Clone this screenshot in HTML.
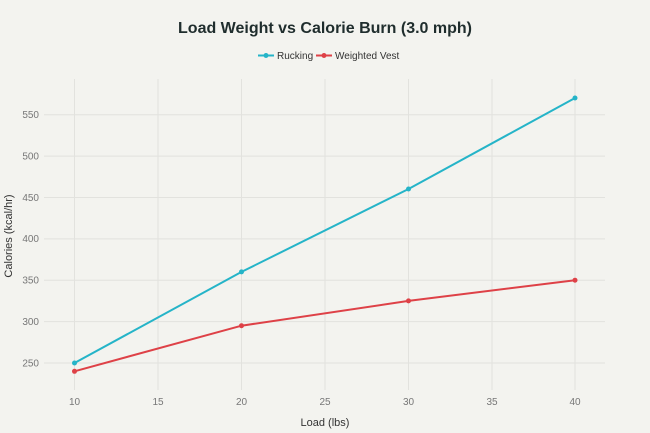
<!DOCTYPE html>
<html><head><style>
body{margin:0;background:#f3f3ef;}
svg{display:block;font-family:"Liberation Sans",sans-serif;}
</style></head><body>
<svg width="650" height="433" viewBox="0 0 650 433">
<rect width="650" height="433" fill="#f3f3ef"/>
<text x="325" y="33" text-anchor="middle" font-size="16" font-weight="bold" fill="#1f2d2d">Load Weight vs Calorie Burn (3.0 mph)</text>
<g font-size="10" fill="#333">
<line x1="258" y1="55.5" x2="274" y2="55.5" stroke="#25b4c8" stroke-width="2"/><circle cx="266" cy="55.5" r="2.5" fill="#25b4c8"/>
<text x="277" y="59">Rucking</text>
<line x1="316" y1="55.5" x2="332" y2="55.5" stroke="#de4147" stroke-width="2"/><circle cx="324" cy="55.5" r="2.5" fill="#de4147"/>
<text x="335" y="59">Weighted Vest</text>
</g>
<g stroke="#e2e2de" stroke-width="1">
<line x1="74.5" y1="79" x2="74.5" y2="390"/><line x1="158" y1="79" x2="158" y2="390"/><line x1="241.5" y1="79" x2="241.5" y2="390"/><line x1="325" y1="79" x2="325" y2="390"/><line x1="408.5" y1="79" x2="408.5" y2="390"/><line x1="492" y1="79" x2="492" y2="390"/><line x1="575" y1="79" x2="575" y2="390"/>
<line x1="44" y1="114.7" x2="605" y2="114.7"/><line x1="44" y1="156.1" x2="605" y2="156.1"/><line x1="44" y1="197.5" x2="605" y2="197.5"/><line x1="44" y1="238.9" x2="605" y2="238.9"/><line x1="44" y1="280.3" x2="605" y2="280.3"/><line x1="44" y1="321.6" x2="605" y2="321.6"/><line x1="44" y1="363" x2="605" y2="363"/>
</g>
<g font-size="10" fill="#777" text-anchor="end">
<text x="39" y="118">550</text><text x="39" y="159.5">500</text><text x="39" y="201">450</text><text x="39" y="242">400</text><text x="39" y="283.5">350</text><text x="39" y="325">300</text><text x="39" y="366.5">250</text>
</g>
<g font-size="10" fill="#777" text-anchor="middle">
<text x="74.5" y="405">10</text><text x="158" y="405">15</text><text x="241.5" y="405">20</text><text x="325" y="405">25</text><text x="408.5" y="405">30</text><text x="492" y="405">35</text><text x="575" y="405">40</text>
</g>
<text x="325" y="426" text-anchor="middle" font-size="11" fill="#333">Load (lbs)</text>
<text transform="translate(12,236) rotate(-90)" text-anchor="middle" font-size="11" fill="#333">Calories (kcal/hr)</text>
<polyline points="74.5,363 241.5,271.9 408.5,189 575,98" fill="none" stroke="#25b4c8" stroke-width="2"/>
<polyline points="74.5,371.3 241.5,325.7 408.5,300.9 575,280.2" fill="none" stroke="#de4147" stroke-width="2"/>
<g fill="#25b4c8"><circle cx="74.5" cy="363" r="2.5"/><circle cx="241.5" cy="271.9" r="2.5"/><circle cx="408.5" cy="189" r="2.5"/><circle cx="575" cy="98" r="2.5"/></g>
<g fill="#de4147"><circle cx="74.5" cy="371.3" r="2.5"/><circle cx="241.5" cy="325.7" r="2.5"/><circle cx="408.5" cy="300.9" r="2.5"/><circle cx="575" cy="280.2" r="2.5"/></g>
</svg>
</body></html>
